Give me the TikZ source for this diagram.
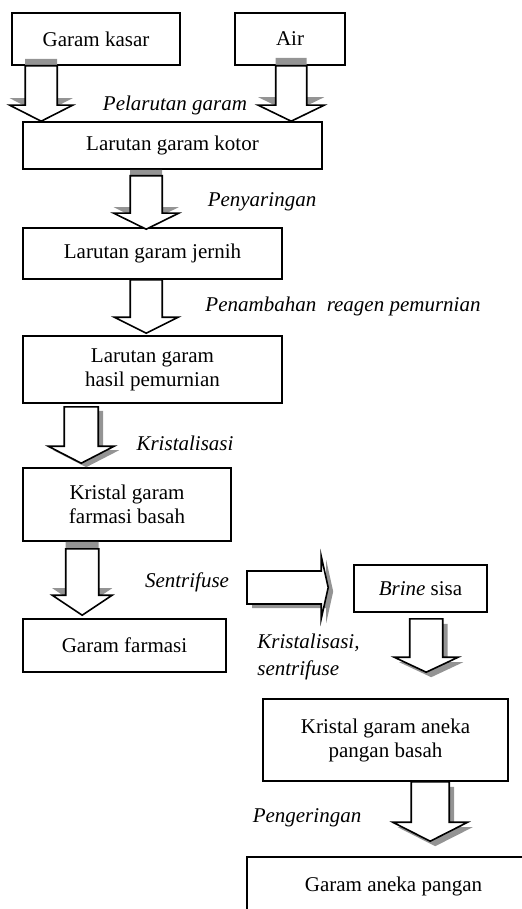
\documentclass[tikz,border=0pt]{standalone}
\usepackage{fontspec}
\setmainfont{Liberation Serif}
\usetikzlibrary{calc}
\colorlet{shadegray}{black!42}
\tikzset{
  box/.style={draw,line width=.8pt,inner sep=0pt,align=center},
  stepname/.style={font=\fontsize{10.5}{12}\selectfont\itshape,inner sep=0pt,align=left},
  blockline/.style={draw,fill=white,line width=.8pt,line join=miter},
}
\newcommand{\flowdown}[6]{%
  \begin{scope}[transform canvas={shift={#6}}]
    \fill[shadegray] ($(#1)+(-#3,0)$) -- ($(#2)+(-#3,-#5)$) -- ($(#2)+(-#4,-#5)$) -- (#2)
      -- ($(#2)+(#4,-#5)$) -- ($(#2)+(#3,-#5)$) -- ($(#1)+(#3,0)$) -- cycle;
  \end{scope}
  \path[blockline] ($(#1)+(-#3,0)$) -- ($(#2)+(-#3,-#5)$) -- ($(#2)+(-#4,-#5)$) -- (#2)
    -- ($(#2)+(#4,-#5)$) -- ($(#2)+(#3,-#5)$) -- ($(#1)+(#3,0)$) -- cycle;}
\newcommand{\flowright}[6]{%
  \begin{scope}[transform canvas={shift={#6}}]
    \fill[shadegray] ($(#1)+(0,-#3)$) -- ($(#2)+(-#5,-#3)$) -- ($(#2)+(-#5,-#4)$) -- (#2)
      -- ($(#2)+(-#5,#4)$) -- ($(#2)+(-#5,#3)$) -- ($(#1)+(0,#3)$) -- cycle;
  \end{scope}
  \path[blockline] ($(#1)+(0,-#3)$) -- ($(#2)+(-#5,-#3)$) -- ($(#2)+(-#5,-#4)$) -- (#2)
    -- ($(#2)+(-#5,#4)$) -- ($(#2)+(-#5,#3)$) -- ($(#1)+(0,#3)$) -- cycle;}
\begin{document}
\begin{tikzpicture}[x=.5pt,y=-.5pt,font=\fontsize{10.5}{12}\selectfont]
  \useasboundingbox (0,0) rectangle (521,909);
  \node[box,minimum width=84pt,minimum height=26pt] (kasar) at (96,39) {Garam kasar};
  \node[box,minimum width=55pt,minimum height=26pt] (air) at (290,39) {Air};
  \node[box,minimum width=149.5pt,minimum height=23.5pt] (kotor) at (172.5,145.5) {Larutan garam kotor};
  \node[box,minimum width=129.5pt,minimum height=25.5pt] (jernih) at (152.5,253.5) {Larutan garam jernih};
  \node[box,minimum width=129.5pt,minimum height=33.5pt] (murni) at (152.5,369.5) {Larutan garam\\hasil pemurnian};
  \node[box,minimum width=104pt,minimum height=36.5pt] (kristalf) at (127,504.5) {Kristal garam\\farmasi basah};
  \node[box,minimum width=101.5pt,minimum height=26.5pt] (farmasi) at (124.5,645.5) {Garam farmasi};
  \node[box,minimum width=66.5pt,minimum height=23.5pt] (brine) at (420.5,588.5) {\textit{Brine} sisa};
  \node[box,minimum width=122.5pt,minimum height=41pt] (kristala) at (385.5,740) {Kristal garam aneka\\pangan basah};
  \node[box,minimum width=146.5pt,minimum height=29pt] (aneka) at (393.5,886) {Garam aneka pangan};
  \node[stepname] (lbl1) at (175,105) {Pelarutan garam};
  \node[stepname] (lbl2) at (262,202) {Penyaringan};
  \node[stepname] (lbl3) at (343,306) {Penambahan\ \ reagen pemurnian};
  \node[stepname] (lbl4) at (185,443) {Kristalisasi};
  \node[stepname] (lbl5) at (187,582) {Sentrifuse};
  \node[stepname,anchor=west] (lbl6) at (257,657) {Kristalisasi,\\[1.5pt]sentrifuse};
  \node[stepname] (lbl7) at (307,818) {Pengeringan};
  \coordinate (a1s) at ($(kasar.south west)+(30,0)$);
  \coordinate (a1e) at (a1s |- kotor.north);
  \coordinate (a2s) at ($(air.south west)+(57,0)$);
  \coordinate (a2e) at (a2s |- kotor.north);
  \coordinate (a3s) at ($(kotor.south west)+(124,6)$);
  \coordinate (a3e) at ($(a3s |- jernih.north)+(0,2)$);
  \coordinate (a4s) at ($(jernih.south west)+(124,0)$);
  \coordinate (a4e) at ($(a4s |- murni.north)+(0,-2)$);
  \coordinate (a5s) at ($(murni.south west)+(59,3)$);
  \coordinate (a5e) at ($(a5s |- kristalf.north)+(0,-4)$);
  \coordinate (a6s) at ($(kristalf.south west)+(60,7)$);
  \coordinate (a6e) at ($(a6s |- farmasi.north)+(0,-3)$);
  \coordinate (a7s) at (247,587.5);
  \coordinate (a7e) at ($(brine.west)+(-25,-1)$);
  \coordinate (a8s) at ($(brine.south west)+(73,6)$);
  \coordinate (a8e) at ($(a8s |- kristala.north)+(0,-26)$);
  \coordinate (a9s) at ($(kristala.south west)+(168,0)$);
  \coordinate (a9e) at ($(a9s |- aneka.north)+(0,-15)$);
  \flowdown{a1s}{a1e}{16}{31.5}{16}{(0,-7)}
  \flowdown{a2s}{a2e}{15.5}{33}{16}{(0,-8)}
  \flowdown{a3s}{a3e}{16}{32.5}{16}{(0,-6)}
  \flowdown{a4s}{a4e}{16}{32}{16}{(0,0)}
  \flowdown{a5s}{a5e}{17}{33}{17}{(5,4)}
  \flowdown{a6s}{a6e}{16.5}{30}{20}{(0,-7)}
  \flowright{a7s}{a7e}{16.5}{31.5}{7}{(5,4)}
  \flowdown{a8s}{a8e}{16.5}{32}{15}{(5,5)}
  \flowdown{a9s}{a9e}{19}{37.5}{19}{(5,5)}
\end{tikzpicture}
\end{document}
